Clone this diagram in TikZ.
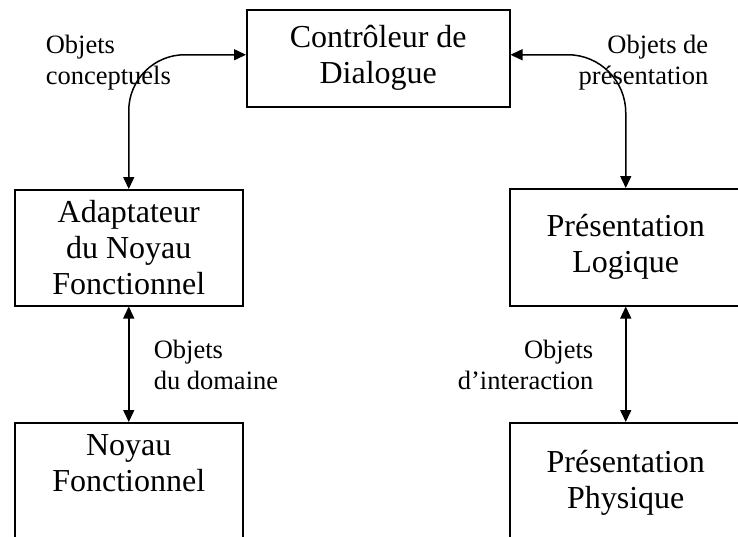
\documentclass[tikz,border=0pt]{standalone}
\usepackage{fontspec}
\setmainfont{Liberation Serif}
\usetikzlibrary{arrows.meta}
\begin{document}
\begin{tikzpicture}[x=1pt,y=1pt,line width=1.5pt,>={Triangle[length=12pt,width=11pt]},
    b/.style={draw=black,align=center,inner xsep=0pt,inner ysep=0pt,font=\fontsize{32}{36}\selectfont},
    l/.style={inner sep=0pt,font=\fontsize{26.5}{31.5}\selectfont}]
                \useasboundingbox (0,0) rectangle (738,-536);

                \node[b,anchor=north west,minimum width=263pt,minimum height=97pt] (ctrl) at (246,-9) {Contrôleur de\\Dialogue};
                \node[b,anchor=north west,minimum width=228pt,minimum height=116pt] (anf) at (14,-189) {Adaptateur\\du Noyau\\Fonctionnel};
                \node[b,anchor=north west,minimum width=232pt,minimum height=117pt] (plog) at (509,-188) {Présentation\\Logique};
                \node[b,anchor=north west,minimum width=228pt,inner ysep=12pt,text depth=90pt] (nf) at (14,-422) {Noyau\\Fonctionnel};
                \node[b,anchor=north west,minimum width=232pt,inner ysep=27pt,text depth=90pt] (pphys) at (509,-422) {Présentation\\Physique};

                \node[l,align=left,anchor=north west] (oc) at (45,-34) {Objets\\conceptuels};
                \node[l,align=right,anchor=north east] (op) at (709,-34) {Objets de\\présentation};
                \node[l,align=left,anchor=north west] (od) at (153,-339) {Objets\\du domaine};
                \node[l,align=right,anchor=north east] (oi) at (594,-339) {Objets\\d’interaction};

                \draw[<->,rounded corners=56pt] (anf.north) |- ([yshift=3.5pt]ctrl.west);
                \draw[<->,rounded corners=58pt] ([yshift=3.5pt]ctrl.east) -| (plog.north);

                \draw[<->] (anf) to (nf);
                \draw[<->] (plog) to (pphys);
            \end{tikzpicture}
\end{document}
